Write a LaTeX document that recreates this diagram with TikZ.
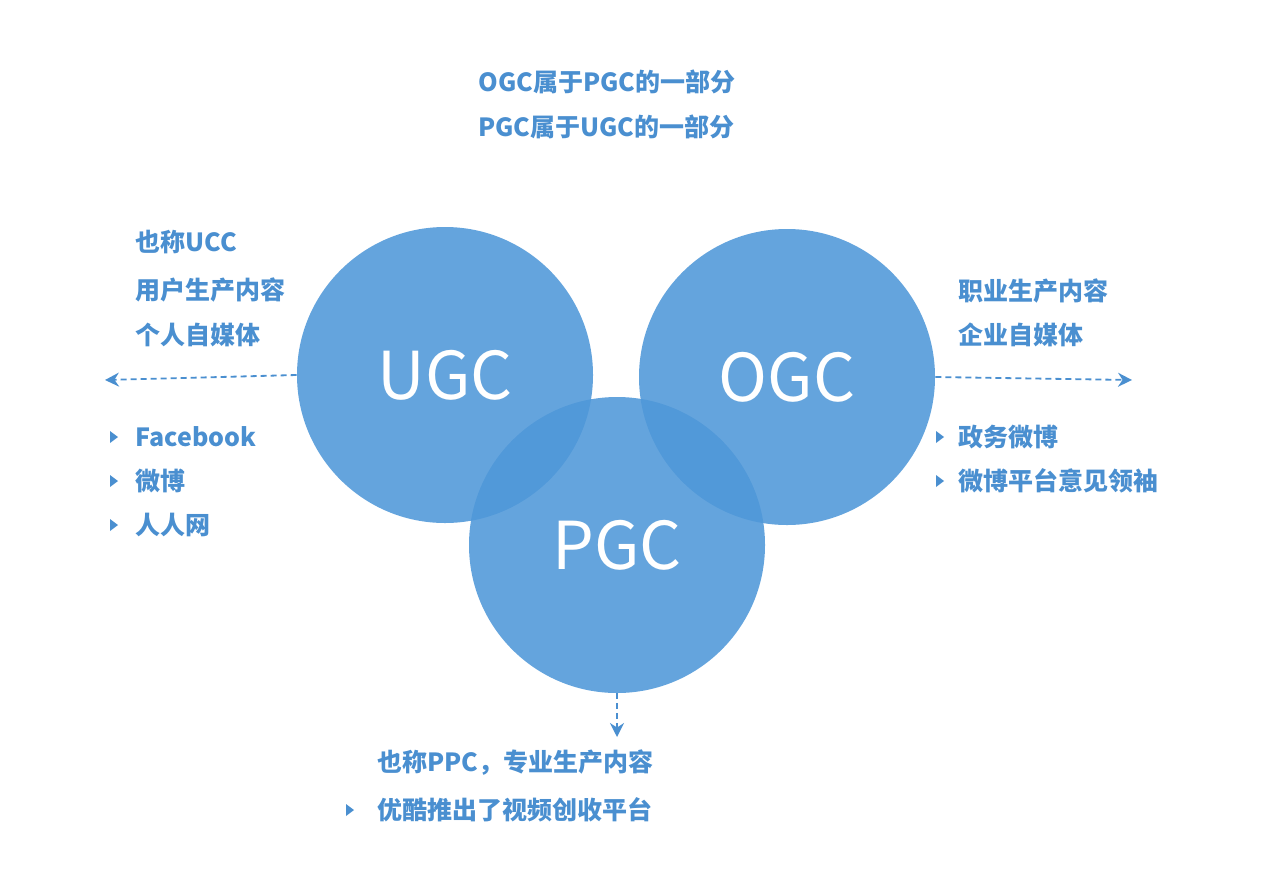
\documentclass[tikz,border=0pt]{standalone}
\usepackage{fontspec}
\setmainfont{Noto Sans CJK SC}
\usetikzlibrary{arrows.meta}
\definecolor{cb}{HTML}{4E97D8}
\definecolor{tb}{HTML}{4A8FD0}
\begin{document}
\begin{tikzpicture}[x=0.5pt,y=-0.5pt,
  circ/.style={circle,fill=cb,fill opacity=0.88,minimum size=296*0.5pt,inner sep=0pt,text opacity=1,text=white,font=\fontsize{33}{33}\selectfont},
  txt/.style={anchor=west,text=tb,font=\fontsize{12.5}{14}\selectfont\bfseries,inner sep=0pt},
  bul/.style={fill=tb,draw=none},
  dline/.style={draw=tb,densely dashed,line width=0.9pt,-{Stealth[length=7pt,width=7pt]}}]
\useasboundingbox (0,0) rectangle (1261,884);
\node[circ] (u) at (445,375) {UGC};
\node[circ] (o) at (787,377) {OGC};
\node[circ] (p) at (617,545) {PGC};
\coordinate (le) at (105,380);
\coordinate (re) at (1132,380);
\coordinate (de) at (617,737);
\draw[dline] (u.west) -- (le);
\draw[dline] (o.east) -- (re);
\draw[dline] (p.south) -- (de);
\node[txt] (t1) at (478,82) {OGC属于PGC的一部分};
\node[txt] (t2) at (478,127) {PGC属于UGC的一部分};
\node[txt] (l1) at (135,242) {也称UCC};
\node[txt] (l2) at (135,290) {用户生产内容};
\node[txt] (l3) at (135,335) {个人自媒体};
\node[txt] (l4) at (135,437) {Facebook};
\node[txt] (l5) at (135,481) {微博};
\node[txt] (l6) at (135,525) {人人网};
\node[txt] (r1) at (958,291) {职业生产内容};
\node[txt] (r2) at (958,335) {企业自媒体};
\node[txt] (r3) at (958,437) {政务微博};
\node[txt] (r4) at (958,481) {微博平台意见领袖};
\node[txt] (b1) at (377,763) {也称PPC，专业生产内容};
\node[txt] (b2) at (377,810) {优酷推出了视频创收平台};
\foreach \x/\y in {110/437,110/481,110/525,936/437,936/481,346/810}
  \fill[bul] (\x,\y-6) -- (\x+8,\y) -- (\x,\y+6) -- cycle;
\end{tikzpicture}
\end{document}
